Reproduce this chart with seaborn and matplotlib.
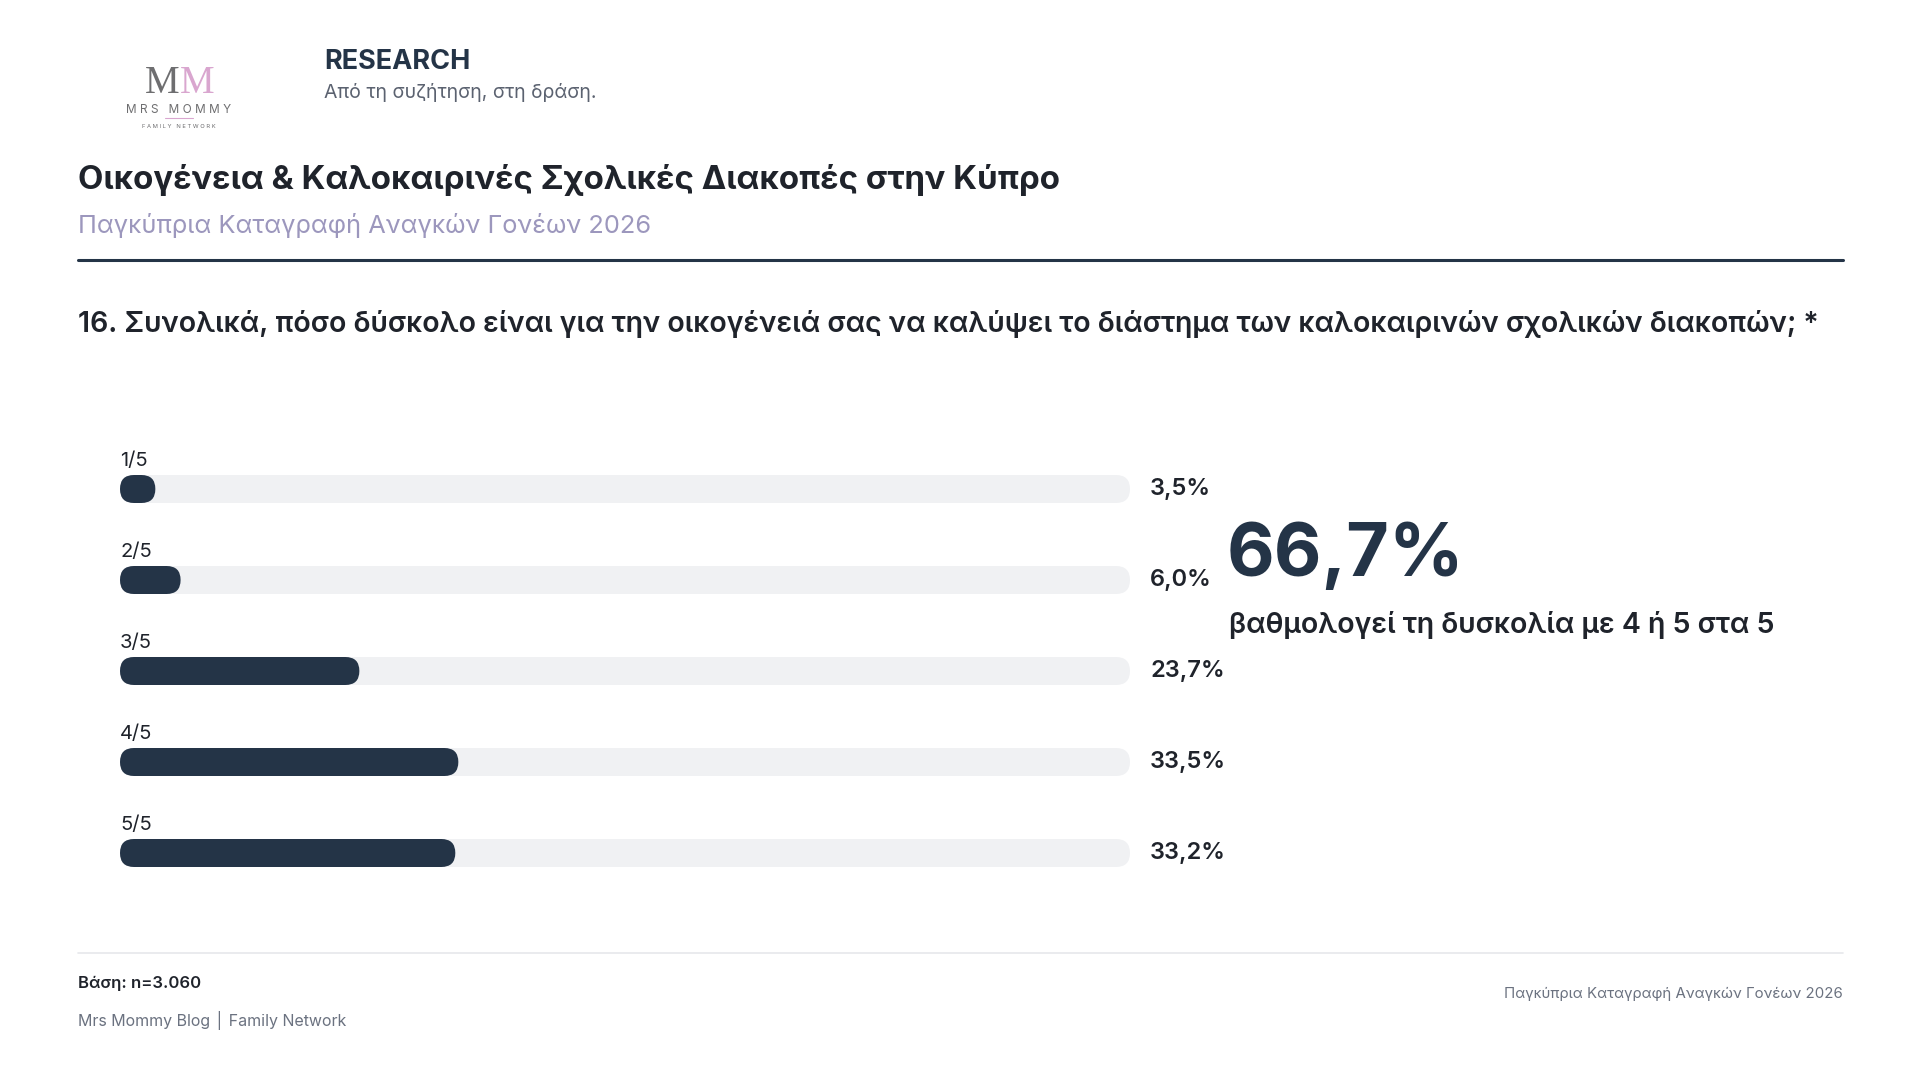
import matplotlib
matplotlib.use("Agg")
import matplotlib.pyplot as plt
from matplotlib.patches import FancyBboxPatch
import seaborn as sns
import pandas as pd

# ---------------- data ----------------
categories = ["1/5", "2/5", "3/5", "4/5", "5/5"]
values = [3.5, 6.0, 23.7, 33.5, 33.2]
value_labels = ["3,5%", "6,0%", "23,7%", "33,5%", "33,2%"]
track_max = [100, 100, 100, 100, 100]
highlight_value = "66,7%"
highlight_text = "βαθμολογεί τη δυσκολία με 4 ή 5 στα 5"

title = "Οικογένεια & Καλοκαιρινές Σχολικές Διακοπές στην Κύπρο"
subtitle = "Παγκύπρια Καταγραφή Αναγκών Γονέων 2026"
question = "16. Συνολικά, πόσο δύσκολο είναι για την οικογένειά σας να καλύψει το διάστημα των καλοκαιρινών σχολικών διακοπών; *"
brand_title = "RESEARCH"
brand_tagline = "Από τη συζήτηση, στη δράση."
base_note = "Βάση: n=3.060"
source_note = "Mrs Mommy Blog │ Family Network"
footer_right = "Παγκύπρια Καταγραφή Αναγκών Γονέων 2026"

# ---------------- style ----------------
sns.set_theme(style="white")
plt.rcParams["font.family"] = ["Inter", "DejaVu Sans"]

NAVY = "#243447"
DARK = "#1f232b"
TRACK = "#f0f1f3"
GRAY = "#6b7280"
PURPLE = "#9c97bd"
PINK = "#d9a6cf"
LOGO_GRAY = "#6e6e70"

W, H = 1920, 1080
fig = plt.figure(figsize=(W / 100, H / 100), dpi=100)
fig.patch.set_facecolor("white")


def fx(px):
    return px / W


def fy(py):
    return 1 - py / H


# ---------------- header ----------------
# logo
fig.text(fx(180), fy(84), "M", fontsize=28, color=LOGO_GRAY, family="Liberation Serif",
         ha="right", va="center")
fig.text(fx(180), fy(84), "M", fontsize=28, color=PINK, family="Liberation Serif",
         ha="left", va="center")
fig.text(fx(179), fy(110), "M R S   M O M M Y", fontsize=8.5, color=LOGO_GRAY,
         ha="center", va="center")
fig.add_artist(plt.Line2D([fx(165), fx(193)], [fy(118), fy(118)], color=PINK, lw=0.8))
fig.text(fx(179), fy(127), "F A M I L Y   N E T W O R K", fontsize=4.2, color=LOGO_GRAY,
         ha="center", va="center")

fig.text(fx(324), fy(62), brand_title, fontsize=19.5, fontweight="bold", color=NAVY,
         ha="left", va="center")
fig.text(fx(324), fy(93), brand_tagline, fontsize=14, color="#5b6270",
         ha="left", va="center")

fig.text(fx(78), fy(180), title, fontsize=23.8, fontweight="bold", color=DARK,
         ha="left", va="center")
fig.text(fx(78), fy(226), subtitle, fontsize=18.3, color=PURPLE,
         ha="left", va="center")
fig.add_artist(plt.Line2D([fx(78), fx(1843)], [fy(260), fy(260)], color=NAVY, lw=2.2))

fig.text(fx(78), fy(324), question, fontsize=20.5, fontweight="semibold", color=DARK,
         ha="left", va="center")

# ---------------- bars ----------------
row_px = 91
bar_px = 28
top_center = 489
ax_left, ax_right = 120, 1130
ax_top = top_center - row_px / 2
ax_h = row_px * len(categories)
ax = fig.add_axes([fx(ax_left), fy(ax_top + ax_h), fx(ax_right - ax_left), ax_h / H])

df = pd.DataFrame({"cat": categories, "val": values, "track": track_max})
bw = bar_px / row_px
sns.barplot(data=df, x="track", y="cat", orient="h", color=TRACK, width=bw,
            ax=ax, saturation=1)
sns.barplot(data=df, x="val", y="cat", orient="h", color=NAVY, width=bw,
            ax=ax, saturation=1)
ax.set_xlim(0, 100)
ax.set_ylim(len(categories) - 0.5, -0.5)
ax.axis("off")

# round the bar ends
px_per_x = (ax_right - ax_left) / 100.0
px_per_y = row_px
radius_x = (bar_px / 2) / px_per_x
aspect = (1 / px_per_y) / (1 / px_per_x)
old = list(ax.patches)
for p in old:
    x0, y0 = p.get_x(), p.get_y()
    w, h = p.get_width(), p.get_height()
    fc = p.get_facecolor()
    z = p.get_zorder()
    p.remove()
    r = min(radius_x, w / 2)
    ax.add_patch(FancyBboxPatch((x0, y0), w, h,
                                boxstyle=f"round,pad=0,rounding_size={r}",
                                mutation_aspect=aspect, facecolor=fc,
                                edgecolor="none", zorder=z))

label_off = (top_center - 461) / row_px
val_x = (1150 - ax_left) / px_per_x
for i, (c, lab) in enumerate(zip(categories, value_labels)):
    ax.text(0, i - label_off, c, fontsize=14.5, color=DARK, ha="left", va="center",
            clip_on=False)
    ax.text(val_x, i, lab, fontsize=17, fontweight="semibold", color=DARK,
            ha="left", va="center", clip_on=False)

# ---------------- highlight ----------------
fig.text(fx(1227), fy(557), highlight_value, fontsize=53, fontweight="bold", color=NAVY,
         ha="left", va="center")
fig.text(fx(1229), fy(625), highlight_text, fontsize=20.5, fontweight="semibold", color=DARK,
         ha="left", va="center")

# ---------------- footer ----------------
fig.add_artist(plt.Line2D([fx(78), fx(1843)], [fy(953), fy(953)], color="#e6e7eb", lw=1.2))
fig.text(fx(78), fy(983), base_note, fontsize=12, fontweight="semibold", color=DARK,
         ha="left", va="center")
fig.text(fx(78), fy(1020), source_note, fontsize=11.5, color=GRAY,
         ha="left", va="center")
fig.text(fx(1843), fy(994), footer_right, fontsize=10.8, color=GRAY,
         ha="right", va="center")

fig.savefig("out.png", dpi=100, facecolor="white")
